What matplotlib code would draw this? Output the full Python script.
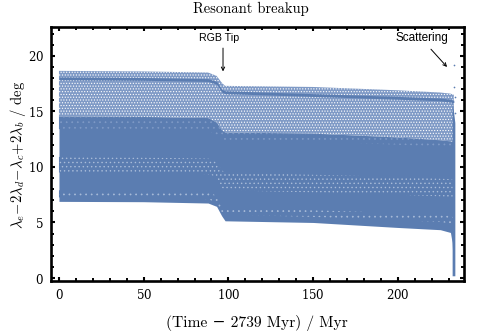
import matplotlib
matplotlib.use("Agg")
import matplotlib.pyplot as plt
from matplotlib.ticker import MultipleLocator

plt.rcParams.update({
    "font.family": ["cmr10", "DejaVu Serif"],
    "mathtext.fontset": "cm",
    "axes.formatter.use_mathtext": True,
    "hatch.linewidth": 0.5,
})

# Time knots (Myr) and boundaries of the point cloud
time = [0, 50, 88, 93, 96, 98, 150, 200, 225, 231, 232, 233]
top_edge = [18.65, 18.6, 18.5, 18.2, 17.6, 17.3, 17.2, 16.9, 16.7, 16.6, 16.55, 16.5]
top_line_hi = [18.1, 18.05, 17.95, 17.7, 17.0, 16.85, 16.6, 16.35, 16.2, 16.1, 16.05, 16.0]
top_line_lo = [17.85, 17.8, 17.7, 17.45, 16.75, 16.6, 16.35, 16.1, 15.95, 15.85, 15.8, 15.8]
dense_edge = [14.55, 14.5, 14.4, 14.0, 13.3, 13.1, 13.0, 12.65, 12.4, 12.3, 12.25, 12.25]
mid_hi = [13.4, 13.35, 13.25, 12.9, 12.5, 12.4, 12.3, 12.0, 11.75, 11.7, 11.65, 11.65]
solid_lo = [11.0, 10.95, 10.85, 10.6, 9.9, 9.7, 9.55, 9.3, 9.15, 9.1, 9.05, 9.05]
speck_hi = [10.9, 10.85, 10.75, 10.5, 9.7, 9.5, 9.3, 9.1, 8.95, 8.9, 8.85, 8.85]
speck_lo = [9.5, 9.45, 9.35, 9.1, 8.1, 7.9, 7.7, 7.5, 7.35, 7.3, 7.25, 7.25]
low_hi = [7.9, 7.85, 7.75, 7.4, 6.5, 6.3, 6.1, 5.85, 5.7, 5.6, 5.5, 5.5]
low_lo = [7.25, 7.2, 7.1, 6.8, 5.9, 5.7, 5.5, 5.2, 5.05, 4.9, 4.7, 4.7]
bottom_edge = [6.9, 6.87, 6.75, 6.45, 5.6, 5.15, 5.0, 4.55, 4.35, 4.1, 3.2, 0.2]

# Thin column at the end of the run, where the system scatters
column_time = [232, 233.6]
column_top = [16.0, 14.0]
column_bottom = [0.2, 0.2]

# Isolated scattered points
outlier_time = [233, 233, 233.4, 233.8]
outlier_value = [19.2, 17.2, 16.3, 14.9]

xticks = [0, 50, 100, 150, 200]
yticks = [0, 5, 10, 15, 20]

DENSE = "#5B7DB1"
SPARSE = "#A9BCD9"

fig = plt.figure(figsize=(4.91, 3.33), dpi=100)
ax = fig.add_axes([51 / 491, 1 - 281 / 333, (464 - 51) / 491, (281 - 27) / 333])

# Base of the cloud, then lighter zones where its points are thinner
ax.fill_between(time, bottom_edge, dense_edge, color=DENSE, lw=0)
ax.fill_between(time, dense_edge, top_edge, facecolor="#7F9AC6", edgecolor="white",
                hatch="......", lw=0)
ax.fill_between(time, top_line_lo, top_line_hi, color=DENSE, lw=0)
ax.fill_between(time, mid_hi, dense_edge, facecolor=DENSE, edgecolor="#7F9AC6",
                hatch="...", lw=0)
ax.fill_between(time, speck_lo, speck_hi, facecolor=DENSE, edgecolor=SPARSE,
                hatch="....", lw=0)
ax.fill_between(time, low_lo, low_hi, facecolor=DENSE, edgecolor=SPARSE,
                hatch="...", lw=0)
ax.fill_between(column_time, column_bottom, column_top, color=DENSE, lw=0)
ax.scatter(outlier_time, outlier_value, s=1.5, color=DENSE, lw=0)

ax.set_xlim(-4.7, 239)
ax.set_ylim(-0.27, 22.6)
ax.set_xticks(xticks)
ax.set_yticks(yticks)
ax.xaxis.set_minor_locator(MultipleLocator(10))
ax.yaxis.set_minor_locator(MultipleLocator(1))
ax.tick_params(which="major", direction="in", top=True, right=True, length=3.2,
               width=1.5, labelsize=8.5, pad=5)
ax.tick_params(which="minor", direction="in", top=True, right=True, length=2,
               width=1.4)
for lab in ax.get_xticklabels() + ax.get_yticklabels():
    lab.set_family("DejaVu Serif")
for s in ax.spines.values():
    s.set_linewidth(1.9)

fig.text(251 / 491, 1 - 9 / 333, "Resonant breakup", ha="center", va="center", fontsize=10.5)
fig.text(257 / 491, 1 - 323 / 333, "(Time \u2212 2739 Myr) / Myr", ha="center", va="center", fontsize=11.2)
fig.text(18 / 491, 1 - 155 / 333,
         r"$\lambda_e\!-\!2\lambda_d\!-\!\lambda_c\!+\!2\lambda_b$ / deg",
         rotation=90, ha="center", va="center", fontsize=10.5)

arrow = dict(arrowstyle="->", lw=0.7, color="black", shrinkA=0, shrinkB=0, mutation_scale=6)
ax.annotate("", xy=(96.8, 18.6), xytext=(96.8, 20.7), arrowprops=arrow)
ax.annotate("", xy=(229, 19.0), xytext=(219.5, 20.6), arrowprops=arrow)
ax.text(94.5, 21.6, "RGB Tip", family="Liberation Sans", fontsize=7.7, ha="center", va="center")
ax.text(214, 21.6, "Scattering", family="Liberation Sans", fontsize=8.5, ha="center", va="center")

fig.savefig("out.png", dpi=100)
